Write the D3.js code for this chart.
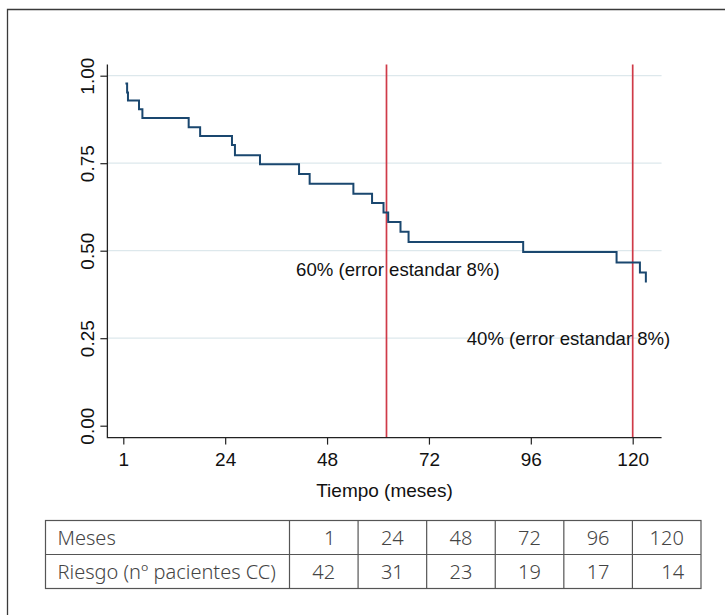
<!DOCTYPE html>
<html>
<head>
<meta charset="utf-8">
<script src="https://cdn.jsdelivr.net/npm/d3@7"></script>
<style>
  body { margin: 0; background: #fff; }
  svg text { font-family: "Liberation Sans", Arial, sans-serif; }
  .tbl text { font-family: "Noto Sans", "Open Sans", sans-serif; fill: #444; font-weight: 300; }
</style>
</head>
<body>
<div id="chart"></div>
<script>
// Kaplan-Meier steps (months, survival)
const stepMonths = [0.5, 0.9, 1.1, 3.7, 4.5, 15.4, 18.1, 25.6, 26.3, 32.2, 41.4, 43.9,
                    54.2, 58.6, 61.3, 62.4, 65.3, 67.2, 94.2, 116.2, 121.7, 123.1];
const stepSurv   = [0.978, 0.952, 0.929, 0.904, 0.879, 0.853, 0.828, 0.802, 0.773, 0.747, 0.719, 0.691,
                    0.663, 0.636, 0.609, 0.582, 0.554, 0.525, 0.496, 0.466, 0.438, 0.409];
const xTicks = [0, 24, 48, 72, 96, 120];
const xTickLabels = ["1", "24", "48", "72", "96", "120"];
const yTicks = [0, 0.25, 0.5, 0.75, 1];
const refMonths = [62, 120];
const notes = [
  { text: "60% (error estandar 8%)", month: 40.7, surv: 0.428 },
  { text: "40% (error estandar 8%)", month: 80.9, surv: 0.231 }
];
const tableHead = "Meses";
const tableRowLabel = "Riesgo (nº pacientes CC)";
const tableMonths = ["1", "24", "48", "72", "96", "120"];
const tableRisk = ["42", "31", "23", "19", "17", "14"];

(function () {
  const width = 725, height = 615;

  const svg = d3.select("#chart").append("svg")
    .attr("width", width).attr("height", height)
    .attr("viewBox", [0, 0, width, height]);

  // outer frame (only top and left edges show)
  svg.append("path")
    .attr("d", `M7.5,${height} V9.5 H${width}`)
    .attr("fill", "none").attr("stroke", "#3a3a3a").attr("stroke-width", 1.3);

  const x = d3.scaleLinear().domain([0, 120]).range([123.3, 632.7]);
  const y = d3.scaleLinear().domain([0, 1]).range([425.7, 75.7]);

  const xLo = x(-3.75), xHi = x(126.8);
  const yLo = y(-0.034), yHi = y(1.032);

  // grid lines
  svg.append("g")
    .selectAll("line")
    .data(yTicks.filter(d => d > 0))
    .join("line")
      .attr("x1", xLo).attr("x2", xHi)
      .attr("y1", d => y(d)).attr("y2", d => y(d))
      .attr("stroke", "#dde8ec").attr("stroke-width", 1.2);

  // reference lines
  svg.append("g")
    .selectAll("line")
    .data(refMonths)
    .join("line")
      .attr("x1", d => x(d)).attr("x2", d => x(d))
      .attr("y1", yHi).attr("y2", yLo)
      .attr("stroke", "#cf3a48").attr("stroke-width", 1.7);

  // survival curve
  const pts = stepMonths.map((m, i) => [m, stepSurv[i]]);
  const line = d3.line()
    .x(d => x(d[0]))
    .y(d => y(d[1]))
    .curve(d3.curveStepAfter);

  svg.append("path")
    .datum(pts)
    .attr("d", line)
    .attr("fill", "none")
    .attr("stroke", "#1a476f")
    .attr("stroke-width", 2);

  // y axis
  const gy = svg.append("g")
    .attr("transform", `translate(${xLo},0)`)
    .call(d3.axisLeft(y).tickValues(yTicks).tickFormat(d3.format(".2f")).tickSize(7).tickSizeOuter(0));
  gy.select(".domain").remove();
  gy.selectAll(".tick line").attr("stroke", "#222").attr("stroke-width", 1.2);
  gy.selectAll(".tick text")
    .attr("x", null).attr("dy", null)
    .attr("text-anchor", "middle")
    .attr("transform", "translate(-13,0) rotate(-90)")
    .attr("font-size", 19).attr("fill", "#111");

  // x axis
  const gx = svg.append("g")
    .attr("transform", `translate(0,${yLo})`)
    .call(d3.axisBottom(x).tickValues(xTicks).tickFormat((d, i) => xTickLabels[i]).tickSize(7).tickSizeOuter(0));
  gx.select(".domain").remove();
  gx.selectAll(".tick line").attr("stroke", "#222").attr("stroke-width", 1.2);
  gx.selectAll(".tick text")
    .attr("y", 28).attr("dy", null)
    .attr("font-size", 19).attr("fill", "#111");

  // axis lines
  svg.append("path")
    .attr("d", `M${xLo},${yHi} V${yLo} H${xHi}`)
    .attr("fill", "none").attr("stroke", "#222").attr("stroke-width", 1.3);

  // x label
  svg.append("text")
    .attr("x", (xLo + xHi) / 2)
    .attr("y", 497)
    .attr("text-anchor", "middle")
    .attr("font-size", 19)
    .attr("fill", "#111")
    .text("Tiempo (meses)");

  // annotations
  svg.append("g")
    .selectAll("text")
    .data(notes)
    .join("text")
      .attr("x", d => x(d.month))
      .attr("y", d => y(d.surv))
      .attr("font-size", 18.6)
      .attr("fill", "#111")
      .text(d => d.text);

  // risk table
  const tLeft = 45.5, tRight = 701, tTop = 520.5, rowH = 34, firstCol = 289.5;
  const col = d3.scaleBand().domain(d3.range(tableMonths.length)).range([firstCol, tRight]);
  const tbl = svg.append("g").attr("class", "tbl");

  tbl.append("rect")
    .attr("x", tLeft).attr("y", tTop)
    .attr("width", tRight - tLeft).attr("height", rowH * 2)
    .attr("fill", "none").attr("stroke", "#555").attr("stroke-width", 1.2);
  tbl.append("line")
    .attr("x1", tLeft).attr("x2", tRight)
    .attr("y1", tTop + rowH).attr("y2", tTop + rowH)
    .attr("stroke", "#555").attr("stroke-width", 1.2);
  tbl.selectAll("line.sep")
    .data(d3.range(tableMonths.length))
    .join("line")
      .attr("class", "sep")
      .attr("x1", i => col(i)).attr("x2", i => col(i))
      .attr("y1", tTop).attr("y2", tTop + rowH * 2)
      .attr("stroke", "#555").attr("stroke-width", 1.2);

  // the original table has a few cells padded slightly to the right
  const nudge = (r, i) => (r === 0 && i === 0) || (r === 1 && i === 5) ? 6 : 0;

  [[tableHead, tableMonths], [tableRowLabel, tableRisk]].forEach(([lab, vals], r) => {
    const cy = tTop + rowH * r + rowH / 2 + 7;
    tbl.append("text")
      .attr("x", tLeft + 12).attr("y", cy)
      .attr("font-size", 20)
      .text(lab);
    tbl.selectAll(null)
      .data(vals)
      .join("text")
        .attr("x", (d, i) => col(i) + col.bandwidth() / 2 + nudge(r, i))
        .attr("y", cy)
        .attr("text-anchor", "middle")
        .attr("font-size", 20)
        .text(d => d);
  });
})();
</script>
</body>
</html>
